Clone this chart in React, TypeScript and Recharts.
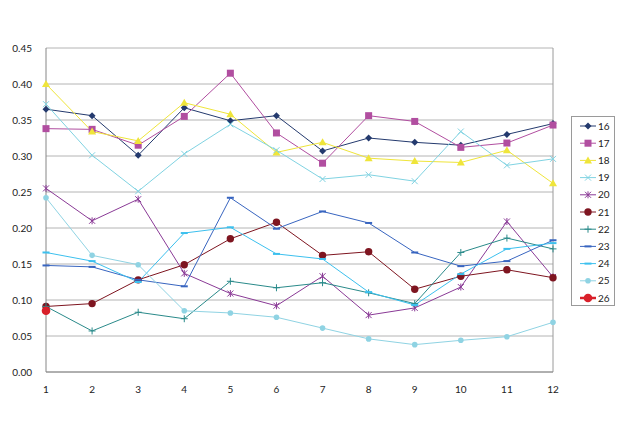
import { LineChart, Line, XAxis, YAxis, CartesianGrid, ReferenceLine } from "recharts";

const months = ["1", "2", "3", "4", "5", "6", "7", "8", "9", "10", "11", "12"];
const yTicks = [0, 0.05, 0.1, 0.15, 0.2, 0.25, 0.3, 0.35, 0.4, 0.45];

const s16 = [0.365, 0.356, 0.301, 0.367, 0.349, 0.356, 0.307, 0.325, 0.319, 0.315, 0.33, 0.345];
const s17 = [0.338, 0.337, 0.315, 0.355, 0.415, 0.332, 0.29, 0.356, 0.348, 0.312, 0.318, 0.343];
const s18 = [0.4, 0.334, 0.321, 0.374, 0.358, 0.305, 0.319, 0.297, 0.293, 0.291, 0.308, 0.262];
const s19 = [0.372, 0.301, 0.251, 0.303, 0.344, 0.308, 0.268, 0.274, 0.265, 0.334, 0.287, 0.296];
const s20 = [0.255, 0.21, 0.24, 0.137, 0.109, 0.092, 0.133, 0.079, 0.089, 0.118, 0.209, 0.132];
const s21 = [0.091, 0.095, 0.128, 0.149, 0.185, 0.208, 0.162, 0.167, 0.115, 0.133, 0.142, 0.131];
const s22 = [0.091, 0.057, 0.083, 0.074, 0.126, 0.117, 0.124, 0.11, 0.095, 0.166, 0.186, 0.171];
const s23 = [0.148, 0.146, 0.128, 0.119, 0.242, 0.199, 0.223, 0.207, 0.166, 0.147, 0.154, 0.183];
const s24 = [0.166, 0.154, 0.125, 0.193, 0.201, 0.164, 0.157, 0.111, 0.093, 0.136, 0.171, 0.179];
const s25 = [0.242, 0.162, 0.149, 0.085, 0.082, 0.076, 0.061, 0.046, 0.038, 0.044, 0.049, 0.069];
const s26 = [0.085, null, null, null, null, null, null, null, null, null, null, null];

type Shape = "diamond" | "square" | "triangle" | "x" | "star" | "circle" | "plus" | "dash" | "dot" | "bigdot";

const series: { key: string; values: (number | null)[]; color: string; shape: Shape; width: number }[] = [
  { key: "16", values: s16, color: "#243a6e", shape: "diamond", width: 1 },
  { key: "17", values: s17, color: "#b14ea0", shape: "square", width: 1 },
  { key: "18", values: s18, color: "#efe53a", shape: "triangle", width: 1 },
  { key: "19", values: s19, color: "#80d3e2", shape: "x", width: 1 },
  { key: "20", values: s20, color: "#8a3a96", shape: "star", width: 1 },
  { key: "21", values: s21, color: "#7e1520", shape: "circle", width: 1 },
  { key: "22", values: s22, color: "#2a8a8a", shape: "plus", width: 1 },
  { key: "23", values: s23, color: "#3865c0", shape: "dash", width: 1 },
  { key: "24", values: s24, color: "#3cc0ee", shape: "dash", width: 1 },
  { key: "25", values: s25, color: "#8fd3e3", shape: "dot", width: 1 },
  { key: "26", values: s26, color: "#d9202a", shape: "bigdot", width: 2.5 },
];

const data = months.map((m, i) => {
  const row: Record<string, string | number | null> = { month: m };
  series.forEach((s) => (row[s.key] = s.values[i]));
  return row;
});

function marker(shape: Shape, color: string, cx: number, cy: number) {
  switch (shape) {
    case "diamond":
      return <path d={`M${cx},${cy - 3.5}L${cx + 3.5},${cy}L${cx},${cy + 3.5}L${cx - 3.5},${cy}Z`} fill={color} />;
    case "square":
      return <rect x={cx - 3.5} y={cy - 3.5} width={7} height={7} fill={color} />;
    case "triangle":
      return <path d={`M${cx},${cy - 4}L${cx + 4},${cy + 3}L${cx - 4},${cy + 3}Z`} fill={color} />;
    case "x":
      return <path d={`M${cx - 3},${cy - 3}L${cx + 3},${cy + 3}M${cx + 3},${cy - 3}L${cx - 3},${cy + 3}`} stroke={color} strokeWidth={1} />;
    case "star":
      return (
        <path
          d={`M${cx - 3},${cy - 3}L${cx + 3},${cy + 3}M${cx + 3},${cy - 3}L${cx - 3},${cy + 3}M${cx},${cy - 3.5}L${cx},${cy + 3.5}`}
          stroke={color}
          strokeWidth={1}
        />
      );
    case "circle":
      return <circle cx={cx} cy={cy} r={3.7} fill={color} />;
    case "plus":
      return <path d={`M${cx - 3.5},${cy}L${cx + 3.5},${cy}M${cx},${cy - 3.5}L${cx},${cy + 3.5}`} stroke={color} strokeWidth={1} />;
    case "dash":
      return <path d={`M${cx - 3.5},${cy}L${cx + 3.5},${cy}`} stroke={color} strokeWidth={2} />;
    case "dot":
      return <circle cx={cx} cy={cy} r={2.8} fill={color} />;
    case "bigdot":
      return <circle cx={cx} cy={cy} r={4.3} fill={color} />;
  }
}

function makeDot(shape: Shape, color: string) {
  return (props: any) => {
    const { cx, cy, value, index } = props;
    if (value == null || cx == null || cy == null) return <g key={index} />;
    return <g key={index}>{marker(shape, color, cx, cy)}</g>;
  };
}

const font = "Lato, 'Open Sans', sans-serif";

function LegendBox() {
  return (
    <div
      style={{
        position: "absolute",
        left: 571,
        top: 116,
        width: 42,
        height: 188,
        border: "1px solid #9a9a9a",
        background: "#fff",
      }}
    >
      <svg width={42} height={188} style={{ display: "block" }}>
        {series.map((s, i) => {
          const y = 9 + i * 17.2;
          return (
            <g key={s.key}>
              <line x1={8} x2={24} y1={y} y2={y} stroke={s.color} strokeWidth={s.width} />
              {marker(s.shape, s.color, 16, y)}
              <text x={26} y={y + 3.5} fontSize={10} fontFamily={font} fill="#222">
                {s.key}
              </text>
            </g>
          );
        })}
      </svg>
    </div>
  );
}

export default function App() {
  return (
    <div style={{ position: "relative", width: 620, height: 439, background: "#fff" }}>
      <style>{`body{margin:0}`}</style>
      <LineChart width={620} height={439} data={data} margin={{ top: 48, right: 67, bottom: 47, left: 0 }}>
        <CartesianGrid vertical={false} stroke="#b4b4b4" />
        <XAxis
          dataKey="month"
          height={20}
          tickLine={false}
          axisLine={{ stroke: "#868686" }}
          tick={{ fontSize: 10, fontFamily: font, fill: "#222" }}
          tickMargin={8}
          interval={0}
        />
        <YAxis
          width={46}
          domain={[0, 0.45]}
          ticks={yTicks}
          tickFormatter={(v: number) => v.toFixed(2)}
          tickLine={false}
          axisLine={{ stroke: "#868686" }}
          tick={{ fontSize: 10, fontFamily: font, fill: "#222" }}
          tickMargin={8}
        />
        <ReferenceLine x="12" stroke="#9a9a9a" />
        {series.map((s) => (
          <Line
            key={s.key}
            dataKey={s.key}
            stroke={s.color}
            strokeWidth={1}
            dot={makeDot(s.shape, s.color)}
            activeDot={false}
            isAnimationActive={false}
            type="linear"
          />
        ))}
      </LineChart>
      <LegendBox />
    </div>
  );
}
